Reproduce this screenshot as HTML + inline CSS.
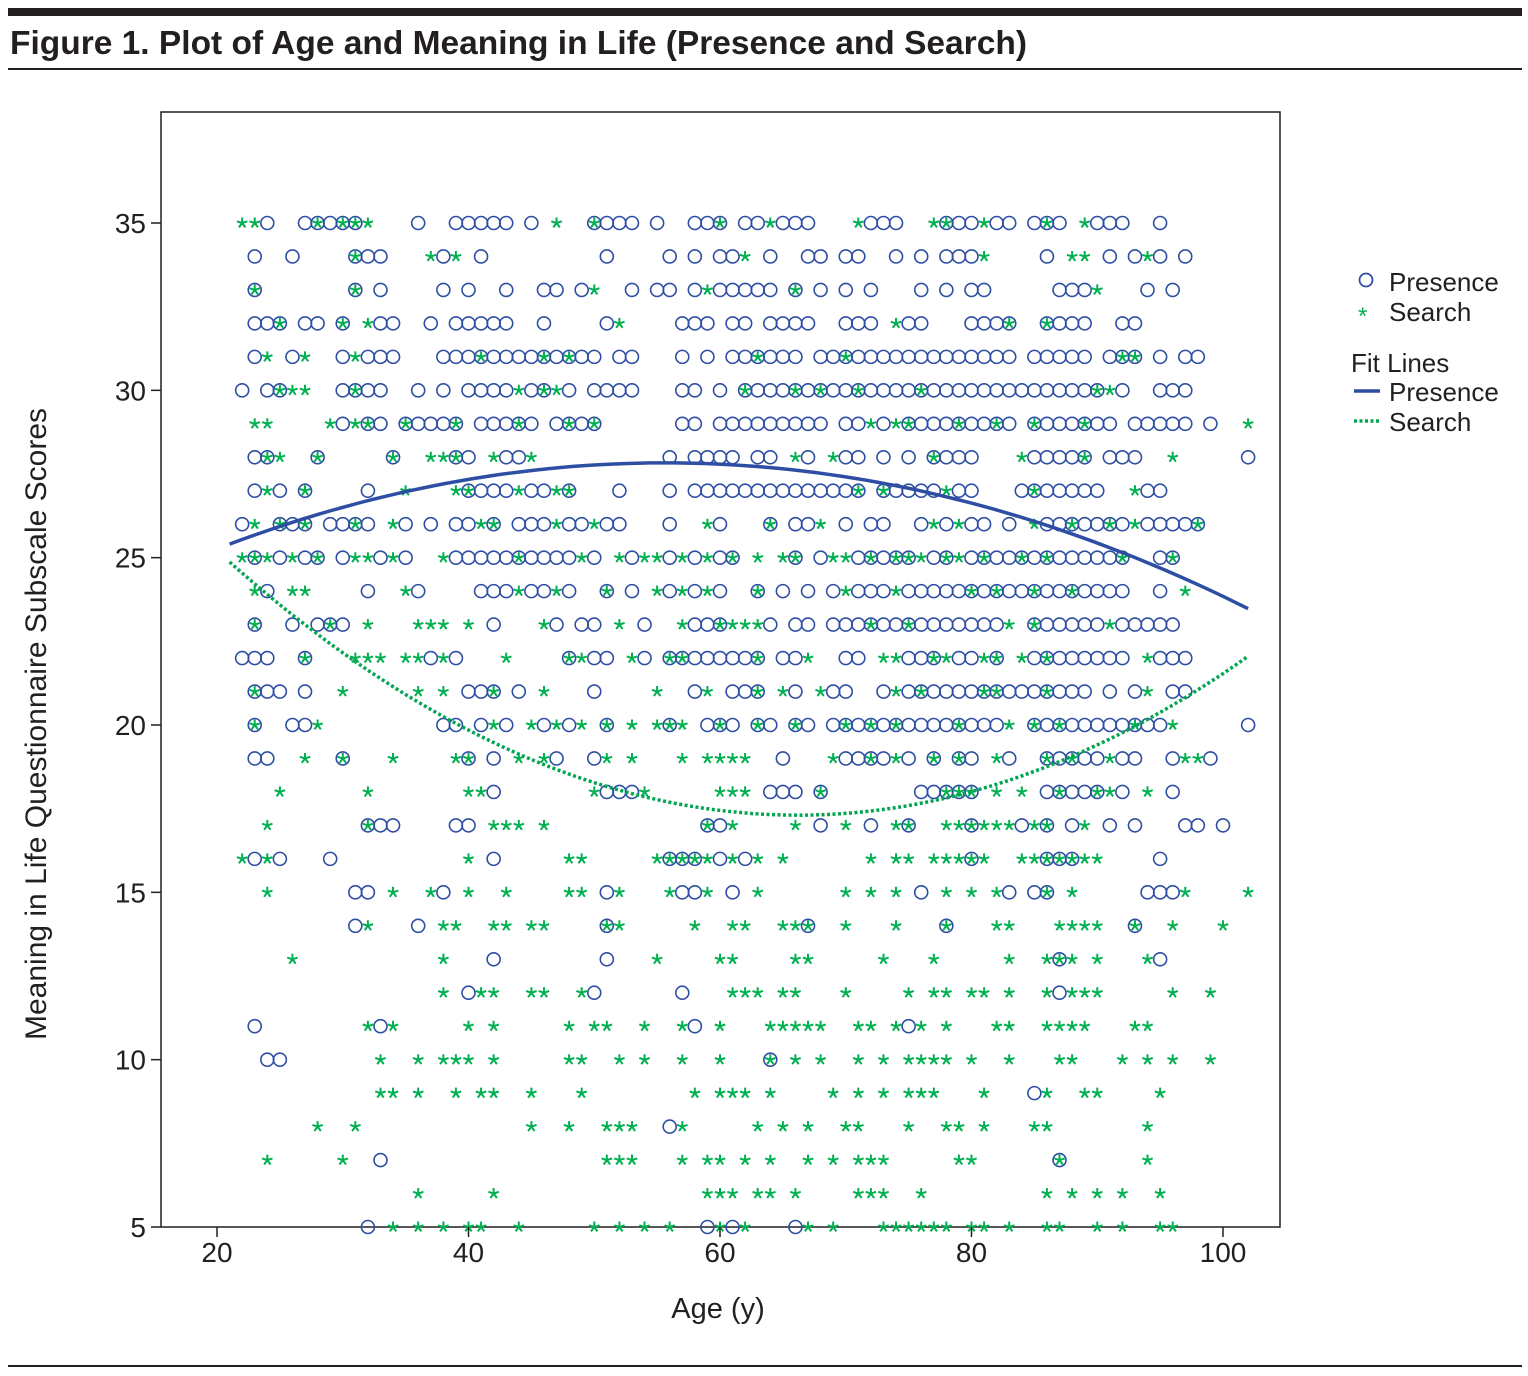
<!DOCTYPE html>
<html><head><meta charset="utf-8"><style>
html,body{margin:0;padding:0;background:#fff;}
body{width:1528px;height:1376px;position:relative;overflow:hidden;font-family:"Liberation Sans",sans-serif;}
</style></head><body>
<svg id="chart" width="1528" height="1376" xmlns="http://www.w3.org/2000/svg" style="position:absolute;left:0;top:0">
<rect x="8" y="8" width="1514" height="8" fill="#231f20"/>
<text x="10" y="54" font-size="33.5" font-weight="bold" fill="#231f20" font-family="Liberation Sans, sans-serif">Figure 1. Plot of Age and Meaning in Life (Presence and Search)</text>
<rect x="8" y="68" width="1514" height="2" fill="#231f20"/>
<rect x="8" y="1365" width="1514" height="2" fill="#231f20"/>
<rect x="161" y="112" width="1119" height="1115" fill="none" stroke="#231f20" stroke-width="1.5"/>
<g id="pts"></g>
<g id="axes"></g>
<text x="718" y="1318" font-size="29" text-anchor="middle" fill="#231f20">Age (y)</text>
<text transform="translate(46,724) rotate(-90)" font-size="30" text-anchor="middle" fill="#231f20">Meaning in Life Questionnaire Subscale Scores</text>
<g font-size="26" fill="#231f20">
<circle cx="1366" cy="280" r="6.5" fill="none" stroke="#2e4ea3" stroke-width="1.8"/>
<text x="1389" y="291">Presence</text>
<text x="1358" y="324" fill="#00b050" font-size="24">*</text>
<text x="1389" y="321">Search</text>
<text x="1351" y="372">Fit Lines</text>
<line x1="1354" y1="391" x2="1380" y2="391" stroke="#2e4ea3" stroke-width="3.5"/>
<text x="1389" y="401">Presence</text>
<line x1="1354" y1="421" x2="1380" y2="421" stroke="#00a651" stroke-width="3.5" stroke-dasharray="3,2.5"/>
<text x="1389" y="431">Search</text>
</g>
</svg>
<script>
const xTicks=[20,40,60,80,100];
const yTicks=[5,10,15,20,25,30,35];
const presence={
35:[24,27,28,29,30,31,36,39,40,41,42,43,45,50,51,52,53,55,58,59,60,62,63,65,66,67,72,73,74,78,79,80,82,83,85,86,87,90,91,92,95],
34:[23,26,31,32,33,38,41,51,56,58,60,61,64,67,68,70,71,74,76,78,79,80,86,91,93,95,97],
33:[23,31,33,38,40,43,46,47,49,53,55,56,58,60,61,62,63,64,66,68,70,72,76,78,80,81,87,88,89,94,96],
32:[23,24,25,27,28,30,33,34,37,39,40,41,42,43,46,51,57,58,59,61,62,64,65,66,67,70,71,72,75,76,80,81,82,83,86,87,88,89,92,93],
31:[23,26,30,32,33,34,38,39,40,41,42,43,44,45,46,47,48,49,50,52,53,57,59,61,62,63,64,65,66,68,69,70,71,72,73,74,75,76,77,78,79,80,81,82,83,85,86,87,88,89,91,92,93,95,97,98],
30:[22,24,25,30,31,32,33,36,38,40,41,42,43,45,46,48,50,51,52,53,57,58,60,62,63,64,65,66,67,68,69,70,71,72,73,74,75,76,77,78,79,80,81,82,83,84,85,86,87,88,89,90,92,95,96,97],
29:[30,32,33,35,36,37,38,39,41,42,43,44,45,47,48,49,50,57,58,60,61,62,63,64,65,66,67,68,70,71,73,75,76,77,78,79,80,81,82,83,85,86,87,88,89,90,91,93,94,95,96,97,99],
28:[23,24,28,34,39,40,43,44,56,58,59,60,61,63,64,67,70,71,73,75,77,78,79,80,85,86,87,88,89,91,92,93,102],
27:[23,25,27,32,40,41,42,43,45,46,48,52,56,58,59,60,61,62,63,64,65,66,67,68,69,70,71,73,74,75,76,77,79,80,84,85,86,87,88,89,90,94,95],
26:[22,25,26,27,29,30,31,32,35,37,39,40,42,44,45,46,48,49,51,52,56,60,64,66,67,70,72,73,76,78,80,81,83,86,87,88,89,90,91,92,94,95,96,97,98],
25:[23,25,27,28,30,33,35,39,40,41,42,43,44,45,46,47,48,50,53,56,58,60,61,66,68,71,72,73,74,75,77,78,80,81,82,83,84,85,86,87,88,89,90,91,92,95,96],
24:[24,32,36,41,42,43,45,46,48,51,53,56,58,60,63,65,67,69,71,72,73,75,76,77,78,79,80,81,82,83,84,85,86,87,88,89,90,91,92,95],
23:[23,26,28,29,30,42,47,49,50,54,58,59,60,64,66,67,69,70,71,72,73,74,75,76,77,78,79,80,81,82,85,86,87,88,89,90,92,93,94,95,96],
22:[22,23,24,27,37,39,48,50,51,54,56,57,58,59,60,61,62,63,65,66,70,71,75,76,77,79,80,82,85,86,87,88,89,90,91,92,95,96,97],
21:[23,24,25,27,40,41,42,44,50,58,61,62,63,66,69,70,73,75,76,77,78,79,80,81,82,83,84,85,86,87,88,89,91,93,96,97],
20:[23,26,27,38,39,41,43,46,48,51,56,59,60,61,63,64,66,67,69,70,71,72,73,74,75,76,77,78,79,80,81,82,85,86,87,88,89,90,91,92,93,94,95,102],
19:[23,24,30,40,42,47,50,65,70,71,72,73,75,77,79,80,83,86,87,88,89,90,92,93,96,99],
18:[42,51,52,53,64,65,66,68,76,77,78,79,80,86,87,88,89,90,92,96],
17:[32,33,34,39,40,59,60,68,72,75,80,84,86,88,91,93,97,98,100],
16:[23,25,29,42,56,57,58,60,62,80,86,87,88,95],
15:[31,32,38,51,57,58,61,76,83,85,86,94,95,96],
14:[31,36,51,67,78,93],
13:[42,51,87,95],
12:[40,50,57,87],
11:[23,33,58,75],
10:[24,25,64],
9:[85],8:[56],7:[33,87],6:[],
5:[32,59,61,66]};
const search={
35:[22,23,28,30,31,32,47,50,60,64,71,77,78,81,86,89],
34:[31,37,39,62,81,88,89,94],
33:[23,31,50,59,66,90],
32:[25,30,32,52,74,83,86],
31:[24,27,31,41,46,48,63,70,92,93],
30:[25,26,27,31,44,46,47,62,66,68,71,76,90,91],
29:[23,24,29,31,32,35,39,44,48,50,72,74,75,79,82,85,89,102],
28:[24,25,28,34,37,38,39,42,45,66,69,77,84,89,96],
27:[24,27,35,39,40,44,47,48,71,73,78,85,93],
26:[23,25,27,31,34,41,42,47,50,59,64,68,77,79,85,88,91,93,98],
25:[22,23,24,26,28,31,32,34,38,44,49,52,54,55,57,59,61,63,65,66,69,70,72,74,75,76,78,79,81,84,86,92,96],
24:[23,26,27,35,44,47,51,55,57,59,63,70,74,80,82,85,88,97],
23:[23,29,32,36,37,38,40,46,52,57,60,61,62,63,72,75,83,85,91],
22:[27,31,32,33,35,36,38,43,48,49,53,56,57,63,67,73,74,77,78,81,82,84,86,94],
21:[23,30,36,38,42,46,55,59,63,65,68,74,76,81,82,86,94],
20:[23,28,42,45,47,49,51,53,55,56,57,60,63,66,70,72,74,79,83,85,87,93,96],
19:[27,30,34,39,40,44,46,51,53,57,59,60,61,62,69,72,74,77,79,82,86,88,91,97,98],
18:[25,32,40,41,50,54,60,61,62,68,78,79,80,82,84,87,90,91,94],
17:[24,32,42,43,44,46,59,61,66,70,74,75,78,79,80,81,82,83,85,86,89],
16:[22,24,40,48,49,55,56,57,58,59,61,63,65,72,74,75,77,78,79,80,81,84,85,86,87,88,89,90],
15:[24,34,37,40,43,48,49,52,56,59,63,70,72,74,78,80,82,86,88,97,102],
14:[32,38,39,42,43,45,46,51,52,58,61,62,65,66,67,70,74,78,82,83,87,88,89,90,93,96,100],
13:[26,38,55,60,61,66,67,73,77,83,86,87,88,90,94],
12:[38,41,42,45,46,49,61,62,63,65,66,70,75,77,78,80,81,83,86,88,89,90,96,99],
11:[32,34,40,42,48,50,51,54,57,60,64,65,66,67,68,71,72,74,76,78,82,83,86,87,88,89,93,94],
10:[33,36,38,39,40,42,48,49,52,54,57,60,64,66,68,71,73,75,76,77,78,80,83,87,88,92,94,96,99],
9:[33,34,36,39,41,42,45,49,58,60,61,62,64,69,71,73,75,76,77,81,86,89,90,95],
8:[28,31,45,48,51,52,53,57,63,65,67,70,71,75,78,79,81,85,86,94],
7:[24,30,51,52,53,57,59,60,62,64,67,69,71,72,73,79,80,87,94],
6:[36,42,59,60,61,63,64,66,71,72,73,76,86,88,90,92,95],
5:[34,36,38,40,41,44,50,52,54,56,60,62,67,69,73,74,75,76,77,78,80,81,83,86,87,90,92,95,96]};
const fitAges=[21,30,40,50,55,60,70,80,90,102];
const presenceFit=[25.3,26.7,27.3,27.7,27.8,27.8,27.5,26.6,25.4,23.5];
const searchFit=[24.8,22.1,20.2,18.2,17.6,17.5,17.3,17.9,19.6,22.0];

const NS='http://www.w3.org/2000/svg';
const X=a=>217+(a-20)*(1006/80);
const Y=v=>1227-(v-5)*(1004/30);
const pts=document.getElementById('pts'),axes=document.getElementById('axes');
function mk(t,at,parent){const e=document.createElementNS(NS,t);for(const k in at)e.setAttribute(k,at[k]);parent.appendChild(e);return e;}
xTicks.forEach(t=>{
 const l=mk('line',{x1:X(t),x2:X(t),y1:1227,y2:1237,stroke:'#231f20','stroke-width':1.5},axes);
 
 
 const tx=mk('text',{x:X(t),y:1262,'font-size':28,'text-anchor':'middle',fill:'#231f20'},axes);tx.textContent=t;
 
 
});
yTicks.forEach(t=>{
 const l=mk('line',{x1:151,x2:161,y1:Y(t),y2:Y(t),stroke:'#231f20','stroke-width':1.5},axes);
 
 
 const tx=mk('text',{x:146,y:Y(t)+10,'font-size':28,'text-anchor':'end',fill:'#231f20'},axes);tx.textContent=t;
 
 
});
function star(cx,cy){let d='';for(let i=0;i<5;i++){const a=-Math.PI/2+i*2*Math.PI/5;d+=`M${cx},${cy}L${(cx+5.5*Math.cos(a)).toFixed(1)},${(cy+5.5*Math.sin(a)).toFixed(1)}`;}return d;}
for(const v in presence){presence[v].forEach(a=>{
 const c=mk('circle',{cx:X(a),cy:Y(+v),r:6.5,fill:'none',stroke:'#2e4ea3','stroke-width':1.6},pts);
 
 
});}
for(const v in search){search[v].forEach(a=>{
 const s=mk('path',{d:star(X(a),Y(+v)),stroke:'#00b050','stroke-width':2,fill:'none'},pts);
 
 
});}
function quadFit(xs,ys){let S=[0,0,0,0,0],T=[0,0,0];xs.forEach((x,i)=>{let p=1;for(let k=0;k<5;k++){S[k]+=p;if(k<3)T[k]+=p*ys[i];p*=x;}});
 const M=[[S[0],S[1],S[2],T[0]],[S[1],S[2],S[3],T[1]],[S[2],S[3],S[4],T[2]]];
 for(let i=0;i<3;i++){for(let j=i+1;j<3;j++){const f=M[j][i]/M[i][i];for(let k=i;k<4;k++)M[j][k]-=f*M[i][k];}}
 const c=[0,0,0];for(let i=2;i>=0;i--){let s=M[i][3];for(let k=i+1;k<3;k++)s-=M[i][k]*c[k];c[i]=s/M[i][i];}return c;}
function fitPath(ys){const c=quadFit(fitAges,ys);let d='';const a0=fitAges[0],a1=fitAges[fitAges.length-1];for(let i=0;i<=80;i++){const a=a0+(a1-a0)*i/80;d+=(i?'L':'M')+X(a).toFixed(1)+','+Y(c[0]+c[1]*a+c[2]*a*a).toFixed(1);}return d;}
const pf=mk('path',{d:fitPath(presenceFit),stroke:'#2e4ea3','stroke-width':3.5,fill:'none'},pts);


const sf=mk('path',{d:fitPath(searchFit),stroke:'#00a651','stroke-width':3.5,fill:'none','stroke-dasharray':'3,2.5'},pts);


</script>
</body></html>
